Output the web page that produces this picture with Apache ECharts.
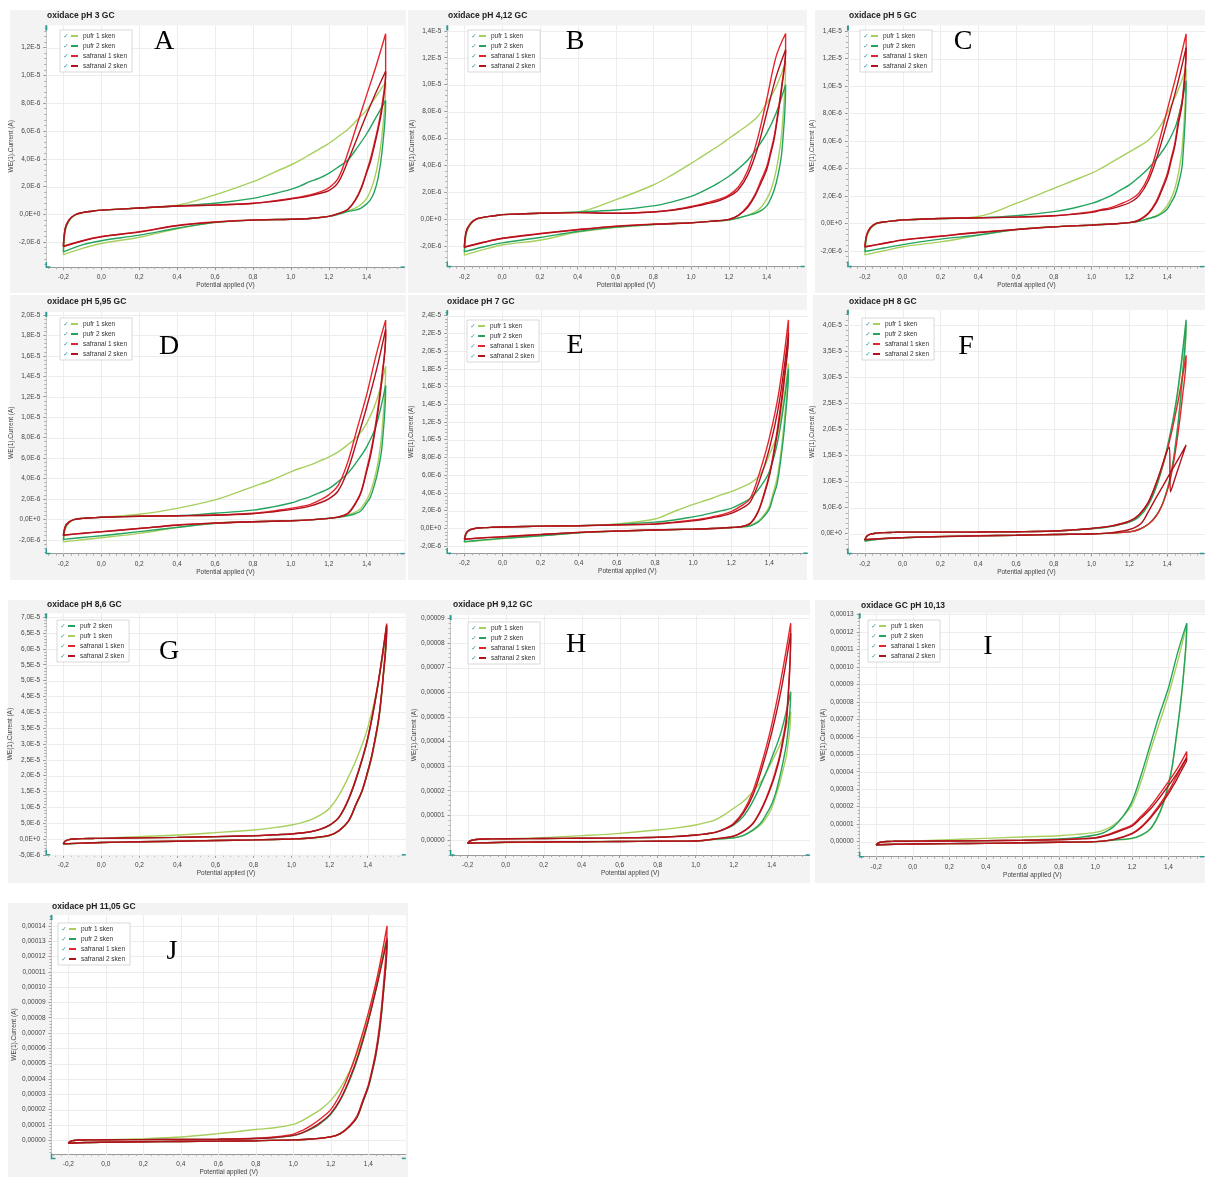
<!DOCTYPE html>
<html><head><meta charset="utf-8">
<script src="https://cdn.jsdelivr.net/npm/echarts@6/dist/echarts.min.js"></script>
<style>html,body{margin:0;padding:0;background:#fff}#c{width:1205px;height:1177px}</style>
</head><body><div id="c"></div>
<script>
// ---------- DATA ----------
// Potential (V) along each scan: forward 0 -> 1.5, reverse 1.5 -> -0.2, return -0.2 -> 0
const E_GRID = [0.0,0.2,0.4,0.6,0.8,0.9,1.0,1.05,1.1,1.15,1.2,1.25,1.3,1.35,1.4,1.45,1.5,
  1.5,1.48,1.46,1.44,1.42,1.4,1.37,1.34,1.3,1.25,1.2,1.1,1.0,0.8,0.6,0.4,0.2,0.0,-0.1,-0.2,
  -0.19,-0.17,-0.14,-0.1,-0.05,0.0];
const SERIES_NAMES = ['pufr 1 sken','pufr 2 sken','safranal 1 sken','safranal 2 sken'];
const TITLES = ['oxidace pH 3 GC','oxidace pH 4,12 GC','oxidace pH 5 GC','oxidace pH 5,95 GC','oxidace pH 7 GC',
  'oxidace pH 8 GC','oxidace pH 8,6 GC','oxidace pH 9,12 GC','oxidace GC pH 10,13','oxidace pH 11,05 GC'];
const LETTERS = ['A','B','C','D','E','F','G','H','I','J'];
const X_TICKS = [-0.2,0.0,0.2,0.4,0.6,0.8,1.0,1.2,1.4];
const Y_TICKS_A = [-2,0,2,4,6,8,10,12];
const Y_TICKS_B = [-2,0,2,4,6,8,10,12,14];
const Y_TICKS_C = [-2,0,2,4,6,8,10,12,14];
const Y_TICKS_D = [-2,0,2,4,6,8,10,12,14,16,18,20];
const Y_TICKS_E = [-2,0,2,4,6,8,10,12,14,16,18,20,22,24];
const Y_TICKS_F = [0,5,10,15,20,25,30,35,40];
const Y_TICKS_G = [-5,0,5,10,15,20,25,30,35,40,45,50,55,60,65,70];
const Y_TICKS_H = [0,10,20,30,40,50,60,70,80,90];
const Y_TICKS_I = [0,10,20,30,40,50,60,70,80,90,100,110,120,130];
const Y_TICKS_J = [0,10,20,30,40,50,60,70,80,90,100,110,120,130,140];

// Currents in microampere (µA)
const A_pufr1 = [0.3,0.45,0.65,1.4,2.35,2.95,3.55,3.9,4.3,4.7,5.1,5.6,6.1,6.8,7.5,8.5,9.5, 9.3,5.6,3.7,2.5,1.7,1.15,0.7,0.45,0.25,0.05,-0.15,-0.3,-0.35,-0.42,-0.6,-1.05,-1.65,-2.1,-2.45,-2.9, -1.2,-0.5,-0.08,0.1,0.22,0.3];
const A_pufr2 = [0.3,0.45,0.6,0.8,1.15,1.45,1.8,2.05,2.35,2.6,2.95,3.4,3.9,4.8,5.8,7.0,8.2, 8.0,4.4,2.6,1.6,1.05,0.75,0.45,0.3,0.2,0.0,-0.15,-0.3,-0.35,-0.42,-0.58,-1.0,-1.5,-1.9,-2.2,-2.7, -1.1,-0.45,-0.05,0.12,0.22,0.3];
const A_saf1 = [0.3,0.45,0.6,0.67,0.8,0.95,1.15,1.25,1.4,1.6,1.9,2.6,4.4,6.5,8.6,10.7,13.0, 10.2,7.8,6.3,5.1,4.0,3.1,1.9,1.05,0.35,0.05,-0.15,-0.3,-0.35,-0.4,-0.55,-0.8,-1.25,-1.6,-1.9,-2.3, -1.0,-0.4,-0.05,0.12,0.22,0.3];
const A_saf2 = [0.3,0.45,0.6,0.66,0.78,0.92,1.1,1.2,1.33,1.5,1.7,2.3,3.8,5.5,7.2,8.8,10.3, 10.1,7.5,6.1,4.9,3.8,3.0,1.8,1.0,0.35,0.05,-0.15,-0.3,-0.36,-0.42,-0.56,-0.82,-1.28,-1.62,-1.92,-2.32, -1.0,-0.4,-0.05,0.12,0.22,0.3];

const B_pufr1 = [0.35,0.45,0.55,1.45,2.55,3.3,4.15,4.6,5.05,5.5,6.0,6.5,7.0,7.6,8.6,9.85,11.7, 11.5,6.5,4.4,3.0,2.1,1.5,0.9,0.55,0.3,0.1,-0.05,-0.15,-0.25,-0.38,-0.6,-0.95,-1.55,-1.9,-2.25,-2.65, -1.1,-0.45,-0.02,0.14,0.25,0.35];
const B_pufr2 = [0.35,0.45,0.55,0.7,1.0,1.3,1.7,2.0,2.35,2.75,3.2,3.75,4.4,5.3,6.4,7.9,10.0, 9.8,5.0,3.3,2.2,1.5,1.0,0.65,0.45,0.3,0.1,-0.05,-0.15,-0.25,-0.38,-0.58,-0.9,-1.35,-1.75,-2.05,-2.4, -1.0,-0.4,0.0,0.15,0.25,0.35];
const B_saf1 = [0.35,0.45,0.5,0.45,0.55,0.7,0.95,1.1,1.3,1.5,1.8,2.4,3.65,5.9,8.9,12.1,13.8, 12.6,10.0,8.0,6.2,5.0,3.9,2.9,1.9,1.0,0.3,0.0,-0.15,-0.25,-0.35,-0.5,-0.75,-1.05,-1.4,-1.7,-2.05, -0.9,-0.35,0.0,0.15,0.25,0.35];
const B_saf2 = [0.35,0.45,0.5,0.45,0.55,0.68,0.9,1.05,1.2,1.4,1.7,2.2,3.3,5.2,7.9,10.6,12.6, 12.4,9.8,7.8,6.0,4.8,3.7,2.7,1.8,0.9,0.3,0.0,-0.15,-0.26,-0.37,-0.52,-0.78,-1.08,-1.42,-1.72,-2.08, -0.9,-0.35,0.0,0.15,0.25,0.35];

const C_pufr1 = [0.25,0.35,0.5,1.45,2.55,3.1,3.65,4.0,4.4,4.8,5.2,5.6,6.05,6.8,8.0,9.45,11.3, 11.1,5.6,3.7,2.5,1.8,1.3,0.8,0.55,0.35,0.15,0.05,-0.05,-0.12,-0.25,-0.45,-0.88,-1.35,-1.7,-2.0,-2.3, -1.0,-0.4,-0.04,0.09,0.18,0.25];
const C_pufr2 = [0.25,0.35,0.4,0.55,0.85,1.1,1.45,1.7,2.0,2.4,2.8,3.35,4.0,4.8,5.8,7.3,10.4, 10.2,4.3,2.9,2.0,1.5,1.05,0.7,0.5,0.35,0.15,0.05,-0.05,-0.12,-0.25,-0.45,-0.85,-1.15,-1.55,-1.8,-2.05, -0.9,-0.35,-0.02,0.1,0.18,0.25];
const C_saf1 = [0.25,0.35,0.4,0.45,0.55,0.68,0.85,1.0,1.15,1.4,1.7,2.2,3.4,5.6,8.25,10.9,13.8, 12.8,9.0,7.6,5.8,4.7,3.6,2.5,1.55,0.75,0.25,0.05,-0.05,-0.12,-0.25,-0.45,-0.65,-0.92,-1.2,-1.45,-1.7, -0.8,-0.3,0.0,0.1,0.18,0.25];
const C_saf2 = [0.25,0.35,0.4,0.45,0.55,0.65,0.8,0.95,1.05,1.25,1.5,2.0,3.1,5.0,7.4,9.9,12.8, 12.6,8.8,7.3,5.6,4.5,3.4,2.35,1.45,0.7,0.22,0.05,-0.05,-0.13,-0.26,-0.46,-0.67,-0.95,-1.22,-1.47,-1.72, -0.8,-0.3,0.0,0.1,0.18,0.25];

const D_pufr1 = [0.2,0.5,1.08,1.9,3.2,3.85,4.65,5.0,5.3,5.7,6.1,6.6,7.3,8.1,9.4,11.5,15.0, 14.8,8.5,5.6,3.9,2.7,1.9,1.1,0.7,0.45,0.22,0.1,-0.05,-0.13,-0.23,-0.38,-0.8,-1.37,-1.8,-2.0,-2.2, -0.95,-0.35,-0.03,0.09,0.15,0.2];
const D_pufr2 = [0.2,0.3,0.35,0.6,0.9,1.2,1.6,1.9,2.2,2.6,3.0,3.7,4.5,5.7,7.1,9.2,13.1, 12.9,7.0,4.8,3.3,2.2,1.6,0.85,0.55,0.35,0.2,0.1,-0.05,-0.13,-0.23,-0.38,-0.78,-1.2,-1.6,-1.78,-1.96, -0.85,-0.3,0.0,0.1,0.15,0.2];
const D_saf1 = [0.2,0.3,0.35,0.42,0.6,0.8,1.08,1.25,1.45,1.85,2.4,3.35,5.6,8.9,12.2,16.1,19.5, 18.0,14.0,11.0,8.5,6.5,4.9,2.7,1.6,0.6,0.25,0.1,-0.05,-0.13,-0.23,-0.36,-0.55,-0.88,-1.2,-1.35,-1.53, -0.7,-0.25,0.0,0.1,0.15,0.2];
const D_saf2 = [0.2,0.3,0.35,0.4,0.55,0.72,0.95,1.1,1.3,1.6,2.0,2.8,4.8,7.8,11.0,14.5,18.6, 18.0,13.6,10.6,8.2,6.2,4.7,2.6,1.5,0.55,0.22,0.1,-0.05,-0.14,-0.24,-0.37,-0.57,-0.9,-1.22,-1.38,-1.55, -0.7,-0.25,0.0,0.1,0.15,0.2];

const E_pufr1 = [0.15,0.25,0.3,0.5,1.05,1.9,2.7,3.05,3.4,3.8,4.15,4.6,5.1,6.0,8.3,11.3,18.6, 18.4,12.5,8.5,5.6,4.0,2.5,1.45,0.8,0.35,0.15,0.1,-0.02,-0.08,-0.18,-0.3,-0.5,-0.85,-1.15,-1.35,-1.55, -0.6,-0.2,0.0,0.08,0.12,0.15];
const E_pufr2 = [0.15,0.25,0.3,0.45,0.7,0.95,1.3,1.5,1.75,2.0,2.25,2.75,3.4,4.6,6.4,10.5,18.0, 17.8,11.6,7.8,5.0,3.6,2.2,1.3,0.7,0.3,0.15,0.1,-0.02,-0.08,-0.18,-0.3,-0.5,-0.83,-1.13,-1.3,-1.5, -0.6,-0.2,0.0,0.08,0.12,0.15];
const E_saf1 = [0.15,0.25,0.3,0.4,0.5,0.7,0.95,1.1,1.3,1.55,1.9,2.5,3.4,6.4,10.2,15.4,23.5, 22.0,17.5,14.0,10.9,8.3,6.1,3.8,1.9,0.6,0.2,0.1,-0.02,-0.08,-0.18,-0.3,-0.45,-0.68,-0.94,-1.05,-1.2, -0.5,-0.15,0.02,0.08,0.12,0.15];
const E_saf2 = [0.15,0.25,0.3,0.38,0.48,0.65,0.85,1.0,1.2,1.4,1.7,2.2,3.0,5.5,9.0,14.0,22.0, 21.8,17.0,13.5,10.5,8.0,5.9,3.6,1.8,0.55,0.18,0.1,-0.02,-0.09,-0.19,-0.31,-0.46,-0.7,-0.96,-1.07,-1.22, -0.5,-0.15,0.02,0.08,0.12,0.15];

const F_pufr1 = [0.3,0.3,0.32,0.38,0.5,0.7,1.0,1.15,1.4,1.8,2.3,3.3,5.6,9.8,16.2,25.5,40.0, 39.5,29.5,21.8,15.8,11.4,8.4,5.2,3.3,1.8,0.8,0.35,0.1,-0.05,-0.15,-0.3,-0.4,-0.55,-0.75,-0.95,-1.4, -0.55,-0.1,0.1,0.2,0.25,0.3];
const F_pufr2 = [0.3,0.3,0.3,0.35,0.48,0.68,0.95,1.1,1.35,1.75,2.2,3.2,5.5,9.8,16.5,26.0,41.0, 40.5,30.0,22.0,16.0,11.5,8.5,5.3,3.4,1.8,0.8,0.35,0.1,-0.05,-0.15,-0.3,-0.42,-0.57,-0.77,-0.97,-1.4, -0.55,-0.1,0.1,0.2,0.25,0.3];
const F_saf1 = [0.3,0.3,0.32,0.38,0.5,0.72,1.0,1.2,1.45,1.85,2.4,3.6,6.0,10.5,16.0,24.0,34.2, 33.8,26.0,20.0,15.0,11.0,8.2,5.2,3.3,1.8,0.8,0.35,0.1,-0.05,-0.15,-0.3,-0.4,-0.55,-0.75,-0.9,-1.15, -0.5,-0.1,0.1,0.2,0.25,0.3];
// safranal 2 sken at pH 8 has a current step near 1.41 V, so it keeps its own potential list
const F_saf2_E = [0.0,0.2,0.4,0.6,0.8,0.9,1.0,1.05,1.1,1.15,1.2,1.25,1.3,1.35,1.4,1.412,1.417,1.45,1.5,
  1.46,1.42,1.38,1.34,1.3,1.26,1.2,1.1,1.0,0.8,0.6,0.4,0.2,0.0,-0.1,-0.2, -0.19,-0.17,-0.14,-0.1,-0.05,0.0];
const F_saf2 = [0.3,0.3,0.32,0.38,0.5,0.72,1.0,1.2,1.45,1.85,2.4,3.6,6.0,10.5,16.0,16.6,8.0,11.6,17.0,
  14.4,11.9,9.3,6.8,4.2,1.9,0.8,0.15,-0.05,-0.15,-0.3,-0.42,-0.57,-0.77,-0.92,-1.15, -0.5,-0.1,0.1,0.2,0.25,0.3];

const G_pufr1 = [0.2,0.75,1.25,2.0,2.85,3.5,4.4,5.1,6.0,7.5,9.7,13.9,19.7,26.5,35.0,47.5,66.0, 65.5,49.5,38.0,31.0,25.2,20.8,14.8,10.8,5.6,2.6,1.1,0.3,0.0,-0.3,-0.5,-0.7,-0.9,-1.1,-1.3,-1.6, -0.7,-0.2,0.0,0.1,0.15,0.2];
const G_pufr2 = [0.2,0.35,0.5,0.72,1.0,1.25,1.55,1.85,2.25,3.0,4.3,6.8,12.4,20.8,31.4,47.0,67.0, 66.5,50.0,38.5,31.5,25.5,21.0,15.0,11.0,5.7,2.6,1.1,0.3,0.0,-0.3,-0.5,-0.7,-0.9,-1.1,-1.3,-1.6, -0.7,-0.2,0.0,0.1,0.15,0.2];
const G_saf1 = [0.2,0.35,0.5,0.75,1.05,1.3,1.6,1.9,2.3,3.1,4.4,7.0,12.8,21.2,31.8,47.5,68.0, 67.5,50.5,39.0,32.0,26.0,21.3,15.2,11.2,5.8,2.7,1.2,0.3,0.0,-0.3,-0.5,-0.7,-0.9,-1.1,-1.3,-1.5, -0.65,-0.2,0.0,0.1,0.15,0.2];
const G_saf2 = [0.2,0.35,0.5,0.74,1.02,1.28,1.58,1.88,2.28,3.05,4.35,6.9,12.6,21.0,31.6,47.2,67.5, 67.0,50.2,38.8,31.8,25.8,21.2,15.1,11.1,5.7,2.6,1.15,0.3,0.0,-0.3,-0.5,-0.7,-0.9,-1.1,-1.3,-1.55, -0.65,-0.2,0.0,0.1,0.15,0.2];

const H_pufr1 = [0.5,0.95,1.75,2.7,4.06,4.9,6.1,7.0,8.1,10.2,12.9,15.6,19.6,24.4,31.8,39.9,52.1, 51.5,35.5,28.5,22.5,17.5,13.0,8.8,6.0,3.8,1.9,0.9,0.3,-0.4,-0.5,-0.6,-0.7,-0.85,-1.0,-1.15,-1.4, -0.5,0.0,0.3,0.4,0.45,0.5];
const H_pufr2 = [0.5,0.6,0.7,0.85,1.1,1.45,2.0,2.5,3.1,4.3,6.1,9.5,15.6,23.7,33.2,44.0,60.2, 59.5,40.5,31.8,24.8,18.8,14.5,10.2,6.7,4.0,1.8,0.9,0.3,-0.4,-0.5,-0.6,-0.7,-0.8,-0.95,-1.1,-1.35, -0.5,0.0,0.3,0.4,0.45,0.5];
const H_saf1 = [0.5,0.6,0.7,0.85,1.1,1.45,2.0,2.5,3.1,4.5,6.8,11.5,19.6,31.8,46.7,65.6,88.0, 84.0,52.0,41.5,33.5,28.0,23.0,16.8,11.8,6.7,3.5,1.6,0.4,-0.4,-0.5,-0.6,-0.7,-0.8,-0.95,-1.1,-1.35, -0.5,0.0,0.3,0.4,0.45,0.5];
const H_saf2 = [0.5,0.6,0.7,0.85,1.1,1.4,1.9,2.4,3.0,4.3,6.4,10.8,18.0,29.5,43.5,61.0,84.0, 83.0,50.0,40.0,32.5,27.0,22.3,16.3,11.4,6.5,3.4,1.55,0.4,-0.4,-0.5,-0.6,-0.7,-0.8,-0.95,-1.1,-1.35, -0.5,0.0,0.3,0.4,0.45,0.5];

const I_pufr1 = [0.3,1.1,1.9,2.7,3.4,4.2,5.3,6.7,9.5,14.3,21.0,34.3,51.5,67.7,84.0,103.0,124.0, 123.0,92.0,73.0,57.0,42.0,32.0,21.0,13.5,7.0,3.5,1.8,0.9,0.0,-0.3,-0.6,-1.0,-1.1,-1.3,-1.5,-1.9, -0.8,-0.2,0.1,0.2,0.25,0.3];
const I_pufr2 = [0.3,0.4,0.6,0.9,1.5,2.3,3.8,5.3,8.6,14.3,22.9,38.0,55.3,72.4,88.0,108.0,125.0, 124.0,93.0,74.0,58.0,43.0,33.0,21.5,14.0,7.3,3.7,1.9,0.9,0.0,-0.3,-0.6,-1.0,-1.1,-1.3,-1.5,-1.9, -0.8,-0.2,0.1,0.2,0.25,0.3];
const I_saf1 = [0.3,0.4,0.6,0.8,1.2,1.6,2.3,3.5,5.3,7.3,9.5,14.5,20.0,27.0,34.3,42.0,51.5, 49.0,44.5,40.5,36.5,32.5,29.0,24.0,19.5,14.0,8.5,4.8,1.3,0.0,-0.3,-0.6,-1.0,-1.1,-1.3,-1.5,-1.8, -0.8,-0.2,0.1,0.2,0.25,0.3];
const I_saf2 = [0.3,0.4,0.55,0.75,1.1,1.5,2.1,3.2,4.8,6.7,8.8,13.5,18.5,25.0,32.0,39.5,48.0, 47.0,42.5,38.5,34.5,31.0,27.5,22.8,18.5,13.3,8.0,4.5,1.2,0.0,-0.3,-0.6,-1.0,-1.1,-1.3,-1.5,-1.8, -0.8,-0.2,0.1,0.2,0.25,0.3];

const J_pufr1 = [0.3,1.0,2.1,4.3,7.0,8.1,10.3,13.0,16.5,20.5,26.0,34.0,45.0,60.0,80.0,106.0,133.0, 132.0,96.0,72.0,56.0,44.5,35.0,25.0,15.2,9.2,4.3,2.2,0.8,0.2,-0.3,-0.6,-0.8,-1.0,-1.3,-1.5,-2.0, -0.8,-0.2,0.1,0.2,0.25,0.3];
const J_pufr2 = [0.3,0.4,0.5,0.65,1.1,1.8,3.0,4.8,7.5,11.5,17.0,26.0,39.0,56.0,78.0,104.0,132.0, 131.0,95.0,71.0,55.0,44.0,34.5,24.5,15.0,9.0,4.2,2.2,0.8,0.2,-0.3,-0.6,-0.8,-1.0,-1.3,-1.5,-2.0, -0.8,-0.2,0.1,0.2,0.25,0.3];
const J_saf1 = [0.3,0.4,0.5,0.7,1.3,2.2,4.0,6.5,10.0,14.5,20.0,30.0,44.0,62.0,83.0,108.0,140.0, 139.0,100.0,75.0,58.0,46.0,36.0,26.0,16.0,9.5,4.5,2.3,0.8,0.2,-0.3,-0.6,-0.8,-1.0,-1.3,-1.5,-2.0, -0.8,-0.2,0.1,0.2,0.25,0.3];
const J_saf2 = [0.3,0.4,0.5,0.65,1.1,1.8,3.2,5.0,8.0,12.0,17.5,26.5,40.0,57.0,78.0,103.0,131.0, 130.0,96.0,72.0,56.0,45.0,35.0,25.0,15.0,9.0,4.2,2.2,0.8,0.2,-0.3,-0.6,-0.8,-1.0,-1.3,-1.5,-2.0, -0.8,-0.2,0.1,0.2,0.25,0.3];

// ---------- LAYOUT / STYLE ----------
const COLORS = ['#a8cf5e','#23a35e','#e4262c','#b0121d'];
const FONT = 'Liberation Sans, Arial, sans-serif';
const X_MIN = -0.29, X_MAX = 1.6;
const TEAL = '#2a9a8e';

const PANELS = [
  {grid:[46.3,25.4,358.3,241.7], y:[-3.8,13.6], ticks:Y_TICKS_A, fmt:'exp', bg:[10,10,396,283], tp:[47,11], lp:[60,30], let:[164,42], order:[0,1,2,3], data:[A_pufr1,A_pufr2,A_saf1,A_saf2]},
  {grid:[447.3,25.4,357.2,241.1], y:[-3.5,14.4], ticks:Y_TICKS_B, fmt:'exp', bg:[408,10,399,283], tp:[448,11], lp:[468,30], let:[575,42], order:[0,1,2,3], data:[B_pufr1,B_pufr2,B_saf1,B_saf2]},
  {grid:[847.9,25.6,358.3,241.0], y:[-3.15,14.4], ticks:Y_TICKS_C, fmt:'exp', bg:[815,10,390,283], tp:[849,11], lp:[860,30], let:[963,42], order:[0,1,2,3], data:[C_pufr1,C_pufr2,C_saf1,C_saf2]},
  {grid:[46.3,311.9,358.3,241.7], y:[-3.35,20.3], ticks:Y_TICKS_D, fmt:'exp', bg:[10,295,396,285], tp:[47,297], lp:[60,318], let:[169,347], order:[0,1,2,3], data:[D_pufr1,D_pufr2,D_saf1,D_saf2]},
  {grid:[447.2,310.2,360.3,243.0], y:[-2.8,24.6], ticks:Y_TICKS_E, fmt:'exp', bg:[408,295,399,285], tp:[447,297], lp:[467,320], let:[575,346], order:[0,1,2,3], data:[E_pufr1,E_pufr2,E_saf1,E_saf2]},
  {grid:[847.8,309.9,360.4,243.6], y:[-3.8,42.9], ticks:Y_TICKS_F, fmt:'exp', bg:[813,295,392,285], tp:[849,297], lp:[862,318], let:[966,347], order:[0,1,2,3], data:[F_pufr1,F_pufr2,F_saf1,F_saf2], ownE:{3:F_saf2_E}},
  {grid:[46.2,613.4,359.5,241.4], y:[-5,71.2], ticks:Y_TICKS_G, fmt:'exp', bg:[8,600,402,283], tp:[47,600], lp:[57,620], let:[169,652], order:[1,0,2,3], data:[G_pufr1,G_pufr2,G_saf1,G_saf2]},
  {grid:[450.6,615.1,359.1,239.9], y:[-6.1,91.3], ticks:Y_TICKS_H, fmt:'fix', bg:[410,600,400,283], tp:[453,600], lp:[468,622], let:[576,645], order:[0,1,2,3], data:[H_pufr1,H_pufr2,H_saf1,H_saf2]},
  {grid:[859.7,613.3,356.3,243.4], y:[-8.6,130.6], ticks:Y_TICKS_I, fmt:'fix', bg:[815,600,390,283], tp:[861,601], lp:[868,620], let:[988,647], order:[0,1,2,3], data:[I_pufr1,I_pufr2,I_saf1,I_saf2]},
  {grid:[51.5,915.1,354.3,243.3], y:[-9,147], ticks:Y_TICKS_J, fmt:'fix', bg:[8,903,400,274], tp:[52,902], lp:[58,923], let:[172,952], order:[0,1,2,3], data:[J_pufr1,J_pufr2,J_saf1,J_saf2]}
];

function fmtX(v){ return v.toFixed(1).replace('.', ','); }
function fmtExp(v){ return (v*1e-6).toExponential(1).replace('.', ',').replace('e', 'E'); }
function fmtFix(v){ return (v*1e-6).toFixed(5).replace('.', ','); }

const X_MINOR = [];
for (let i = -7; i <= 40; i++) { if (i % 5 !== 0) X_MINOR.push(Math.round(i*4)/100); }
function yMinor(ticks, lo, hi){
  const st = (ticks[1]-ticks[0])/5, out = [];
  const a = Math.ceil((lo - ticks[0])/st), b = Math.floor((hi - ticks[0])/st);
  for (let i = a; i <= b; i++) { if (((i % 5) + 5) % 5 !== 0) out.push(ticks[0] + i*st); }
  return out;
}

const option = {animation:false, backgroundColor:'#fff', title:[], grid:[], xAxis:[], yAxis:[], legend:[], series:[], graphic:{elements:[]}};
const TXT = {fontSize:6.5, color:'#444', fontFamily:FONT};

PANELS.forEach((p, k) => {
  option.graphic.elements.push({type:'rect', z:-10, silent:true, shape:{x:p.bg[0], y:p.bg[1], width:p.bg[2], height:p.bg[3]}, style:{fill:'#f3f3f3'}});
  option.title.push({text:TITLES[k], left:p.tp[0], top:p.tp[1], padding:0, textStyle:{fontSize:8.5, fontWeight:'bold', color:'#222', fontFamily:FONT}});
  option.grid.push({left:p.grid[0], top:p.grid[1], width:p.grid[2], height:p.grid[3], show:true, backgroundColor:'#fff', borderWidth:0});
  option.xAxis.push({type:'value', gridIndex:k, min:X_MIN, max:X_MAX, position:'bottom',
    axisLine:{show:true, onZero:false, lineStyle:{color:'#9a9a9a', width:1}},
    axisTick:{show:true, customValues:X_TICKS, length:3, lineStyle:{color:'#999'}},
    axisLabel:{customValues:X_TICKS, formatter:fmtX, margin:7, ...TXT},
    splitLine:{show:false},
    name:'Potential applied (V)', nameLocation:'middle', nameGap:15, nameTextStyle:{...TXT}});
  option.xAxis.push({type:'value', gridIndex:k, min:X_MIN, max:X_MAX, position:'bottom',
    axisLine:{show:false, onZero:false}, axisTick:{show:true, customValues:X_MINOR, length:2, lineStyle:{color:'#aaa'}},
    axisLabel:{show:false}, splitLine:{show:false}});
  option.yAxis.push({type:'value', gridIndex:k, min:p.y[0], max:p.y[1], position:'left',
    axisLine:{show:true, onZero:false, lineStyle:{color:'#c8c8c8', width:1}},
    axisTick:{show:true, customValues:p.ticks, length:3, lineStyle:{color:'#999'}},
    axisLabel:{customValues:p.ticks, formatter:(p.fmt==='exp'?fmtExp:fmtFix), margin:6, ...TXT},
    splitLine:{show:false},
    name:'WE(1).Current (A)', nameLocation:'middle', nameGap:32, nameRotate:90, nameTextStyle:{...TXT}});
  option.yAxis.push({type:'value', gridIndex:k, min:p.y[0], max:p.y[1], position:'left',
    axisLine:{show:false, onZero:false}, axisTick:{show:true, customValues:yMinor(p.ticks, p.y[0], p.y[1]), length:2, lineStyle:{color:'#aaa'}},
    axisLabel:{show:false}, splitLine:{show:false}});
  p.data.forEach((vals, s) => {
    const E = (p.ownE && p.ownE[s]) ? p.ownE[s] : E_GRID;
    option.series.push({type:'line', name:SERIES_NAMES[s], xAxisIndex:2*k, yAxisIndex:2*k,
      data:E.map((e, i) => [e, vals[i]]), showSymbol:false, symbol:'none', smooth:0.35, silent:true,
      lineStyle:{width:1.4, color:COLORS[s]}, itemStyle:{color:COLORS[s]}, z:2, emphasis:{disabled:true}});
  });
  option.legend.push({data:p.order.map(i => SERIES_NAMES[i]), left:p.lp[0], top:p.lp[1], orient:'vertical',
    itemWidth:7, itemHeight:2, itemGap:2, icon:'rect', selectedMode:false, z:6,
    textStyle:{fontSize:6.5, color:'#333', lineHeight:8, fontFamily:FONT},
    backgroundColor:'#fff', borderColor:'#cfcfcf', borderWidth:0.8, padding:[2,5,2,11]});
  for (let r = 0; r < 4; r++) {
    option.graphic.elements.push({type:'text', z:100, silent:true, x:p.lp[0]+6, y:p.lp[1]+6+r*10,
      style:{text:'\u2713', fill:'#2f8f9e', fontSize:6.5, fontFamily:'DejaVu Sans', align:'center', verticalAlign:'middle'}});
  }
  option.graphic.elements.push({type:'text', z:100, silent:true, x:p.let[0], y:p.let[1],
    style:{text:LETTERS[k], fill:'#000', fontSize:28, fontFamily:'Liberation Serif, Times New Roman, serif', align:'center', verticalAlign:'middle'}});
});

const chart = echarts.init(document.getElementById('c'), null, {renderer:'canvas'});
chart.setOption(option);

// Major grid lines and teal axis end markers, placed through the axes' own scales
const extra = [];
PANELS.forEach((p, k) => {
  const [gl, gt, gw, gh] = p.grid;
  const gb = gt + gh, gr = Math.min(gl + gw, 1204);
  X_TICKS.forEach(v => {
    const x = Math.round(chart.convertToPixel({xAxisIndex: 2*k}, v)) + 0.5;
    extra.push({type:'line', z:1, silent:true, shape:{x1:x, y1:gt, x2:x, y2:gb}, style:{stroke:'#ededed', lineWidth:1}});
  });
  p.ticks.forEach(v => {
    const y = Math.round(chart.convertToPixel({yAxisIndex: 2*k}, v)) + 0.5;
    extra.push({type:'line', z:1, silent:true, shape:{x1:gl, y1:y, x2:gl+gw, y2:y}, style:{stroke:'#ededed', lineWidth:1}});
  });
  extra.push({type:'line', z:7, silent:true, shape:{x1:gl, y1:gt, x2:gl, y2:gt+5}, style:{stroke:TEAL, lineWidth:2}});
  extra.push({type:'polyline', z:7, silent:true, shape:{points:[[gl, gb-5],[gl, gb],[gl+4, gb]]}, style:{stroke:TEAL, lineWidth:1.5, fill:null}});
  extra.push({type:'line', z:7, silent:true, shape:{x1:gr-4, y1:gb, x2:gr, y2:gb}, style:{stroke:TEAL, lineWidth:1.5}});
});
chart.setOption({graphic:{elements: option.graphic.elements.concat(extra)}});
</script></body></html>
